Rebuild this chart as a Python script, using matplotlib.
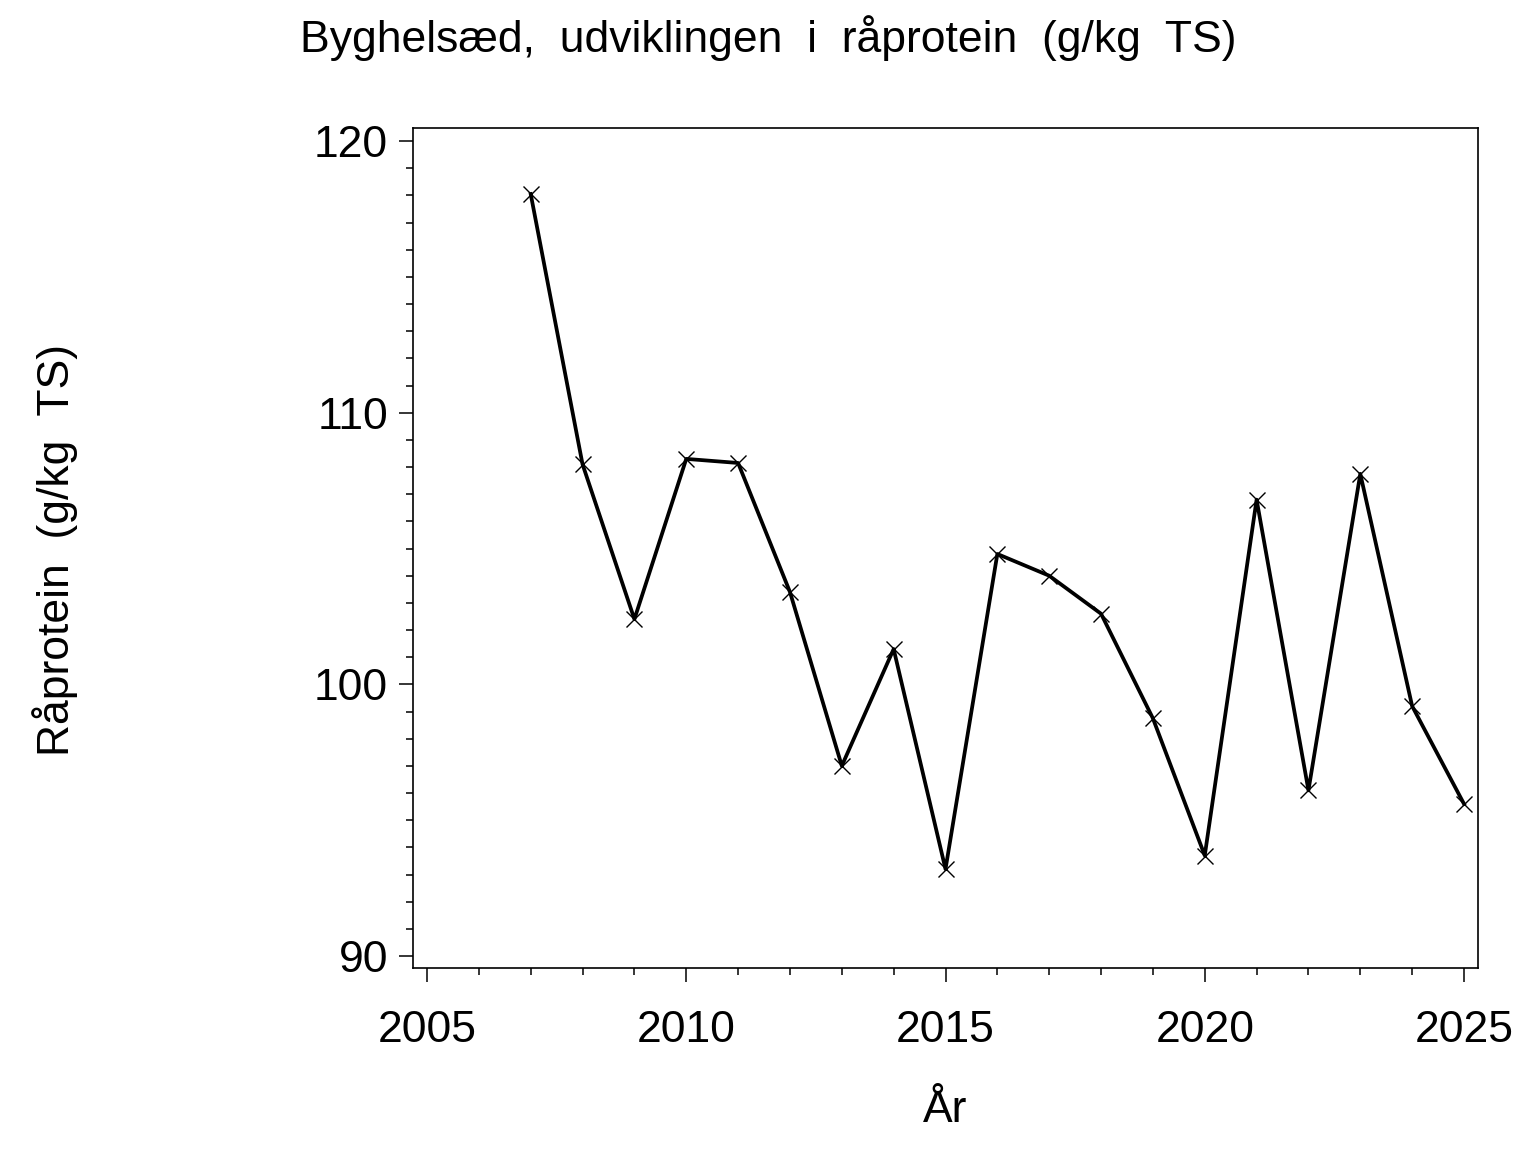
import matplotlib
matplotlib.use('Agg')
import matplotlib.pyplot as plt
from matplotlib import font_manager
from matplotlib.ticker import MultipleLocator

# font: narrow helvetica look
names = {f.name for f in font_manager.fontManager.ttflist}
if 'Liberation Sans Narrow' in names:
    plt.rcParams['font.family'] = ['Liberation Sans Narrow', 'DejaVu Sans']
else:
    plt.rcParams['font.family'] = ['Liberation Sans', 'DejaVu Sans']

# data
years = [2007, 2008, 2009, 2010, 2011, 2012, 2013, 2014, 2015, 2016,
         2017, 2018, 2019, 2020, 2021, 2022, 2023, 2024, 2025]
protein = [118.05, 108.1, 102.4, 108.3, 108.15, 103.4, 97.0, 101.3, 93.2, 104.8,
           104.0, 102.6, 98.75, 93.7, 106.8, 96.1, 107.75, 99.2, 95.6]

fig = plt.figure(figsize=(15.36, 11.52), dpi=100)
ax = fig.add_axes([413/1536, 1 - 968/1152, (1478 - 413)/1536, (968 - 128)/1152])

ax.plot(years, protein, color='black', lw=2.7, marker='x', markersize=12,
        markeredgewidth=1.0)

ax.set_xlim(2004.73, 2025.27)
ax.set_ylim(89.56, 120.48)
ax.set_xticks([2005, 2010, 2015, 2020, 2025])
ax.set_yticks([90, 100, 110, 120])
ax.xaxis.set_minor_locator(MultipleLocator(1))
ax.yaxis.set_minor_locator(MultipleLocator(1))

ax.tick_params(which='major', length=10, width=1.1, labelsize=32, direction='out')
ax.tick_params(which='minor', length=5, width=1.1, direction='out')
ax.tick_params(axis='x', which='major', pad=20)
ax.tick_params(axis='y', which='major', pad=8)
for s in ax.spines.values():
    s.set_linewidth(1.2)

fig.text(0.5, 1 - 38/1152, 'Byghelsæd,  udviklingen  i  råprotein  (g/kg  TS)',
         ha='center', va='center', fontsize=32)
fig.text(55/1536, 1 - 550/1152, 'Råprotein  (g/kg  TS)', rotation=90,
         ha='center', va='center', fontsize=32)
fig.text(945/1536, 1 - 1110/1152, 'År', ha='center', va='center', fontsize=32)

fig.savefig('out.png', dpi=100)
